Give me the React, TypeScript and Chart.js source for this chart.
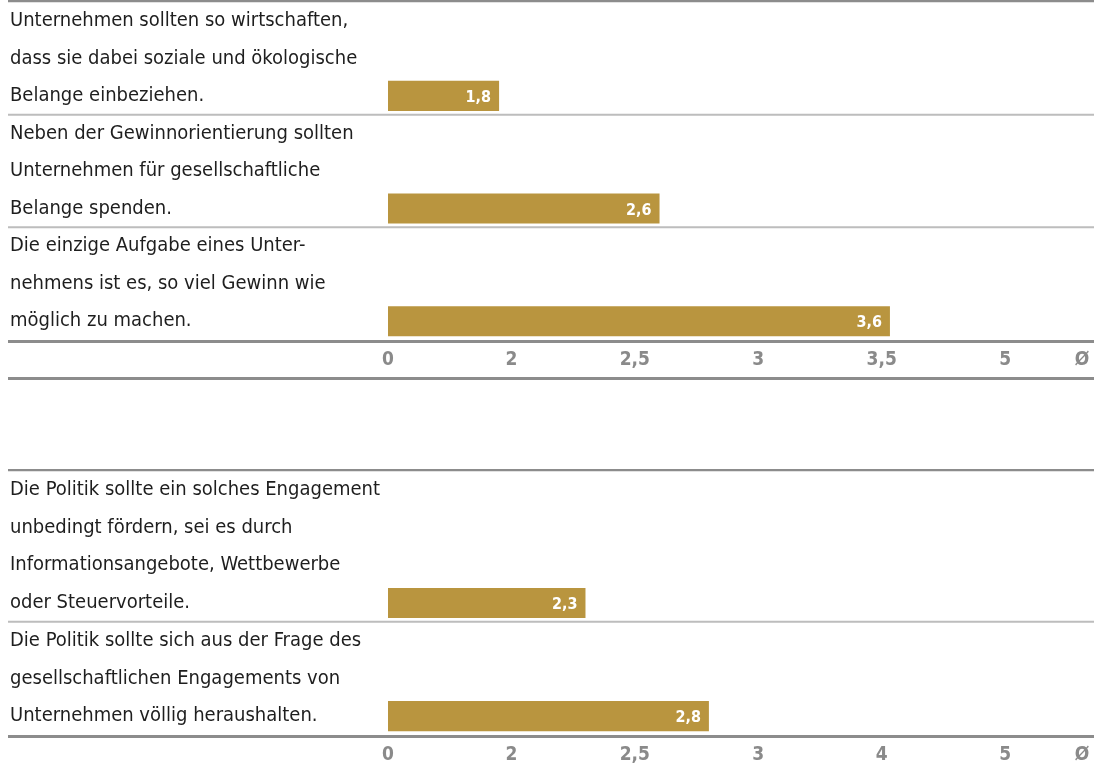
import React, { useEffect, useRef } from 'react';
import { Chart, registerables, LinearScale } from 'chart.js';

// ---------- data ----------
const topStatements: string[][] = [
  ['Unternehmen sollten so wirtschaften,', 'dass sie dabei soziale und ökologische', 'Belange einbeziehen.'],
  ['Neben der Gewinnorientierung sollten', 'Unternehmen für gesellschaftliche', 'Belange spenden.'],
  ['Die einzige Aufgabe eines Unter-', 'nehmens ist es, so viel Gewinn wie', 'möglich zu machen.'],
];
const topValues: number[] = [1.8, 2.6, 3.6];
const topTicks: number[] = [0, 2, 2.5, 3, 3.5, 5];

const bottomStatements: string[][] = [
  ['Die Politik sollte ein solches Engagement', 'unbedingt fördern, sei es durch', 'Informationsangebote, Wettbewerbe', 'oder Steuervorteile.'],
  ['Die Politik sollte sich aus der Frage des', 'gesellschaftlichen Engagements von', 'Unternehmen völlig heraushalten.'],
];
const bottomValues: number[] = [2.3, 2.8];
const bottomTicks: number[] = [0, 2, 2.5, 3, 4, 5];

const unitLabel = 'Ø';

// ---------- styles ----------
const GOLD = '#b9953f';
const DARK_LINE = '#8c8c8c';
const LIGHT_LINE = '#bdbdbd';
const TEXT = '#1e1e1e';
const TICK = '#8a8a8a';
const FONT = "'Liberation Sans Narrow', 'DejaVu Sans Condensed', 'Roboto Condensed', sans-serif";
const W = 1094;
const AXIS_H = 45;
const TICK_PAD = 9;
const TICK_SIZE = 19;

const fmt = (v: number) => String(v).replace('.', ',');

// A scale whose tick values are evenly spaced; values are interpolated between them.
class BreakScale extends LinearScale {
  static id = 'breaks';
  static defaults = {};
  toPos(v: number): number {
    const b: number[] = (this.options as any).breaks;
    if (v <= b[0]) return (v - b[0]) / (b[1] - b[0]);
    for (let i = 0; i < b.length - 1; i++) {
      if (v <= b[i + 1]) return i + (v - b[i]) / (b[i + 1] - b[i]);
    }
    const n = b.length - 1;
    return n + (v - b[n]) / (b[n] - b[n - 1]);
  }
  determineDataLimits() {
    this.min = 0;
    this.max = (this.options as any).span;
  }
  buildTicks() {
    return ((this.options as any).breaks as number[]).map((v) => ({ value: v }));
  }
  getPixelForValue(value: any) {
    if (value === null || value === undefined || isNaN(value)) return NaN;
    return super.getPixelForValue(this.toPos(value));
  }
}

Chart.register(...registerables, BreakScale);

function makeChart(canvas: HTMLCanvasElement, statements: string[][], values: number[], ticks: number[]) {
  const labels = statements.flat();
  const data: (number | null)[] = [];
  statements.forEach((lines, i) =>
    lines.forEach((_, j) => data.push(j === lines.length - 1 ? values[i] : null))
  );

  const decor = {
    id: 'decor',
    afterDraw(chart: any) {
      const { ctx, chartArea, scales } = chart;
      const y = scales.y;
      const hline = (yy: number, color: string, w: number) => {
        ctx.save();
        ctx.strokeStyle = color;
        ctx.lineWidth = w;
        ctx.beginPath();
        ctx.moveTo(8, yy);
        ctx.lineTo(chart.width, yy);
        ctx.stroke();
        ctx.restore();
      };
      let idx = -1;
      statements.forEach((lines, i) => {
        idx += lines.length;
        if (i < statements.length - 1) {
          const yy = (y.getPixelForTick(idx) + y.getPixelForTick(idx + 1)) / 2;
          hline(yy, LIGHT_LINE, 2);
        }
      });
      hline(chartArea.top - 1, DARK_LINE, 2.5);
      hline(chartArea.bottom + 1.5, DARK_LINE, 3);
      hline(chartArea.bottom + 38.5, DARK_LINE, 3);

      ctx.save();
      ctx.fillStyle = '#ffffff';
      ctx.font = `bold 16px ${FONT}`;
      ctx.textAlign = 'right';
      ctx.textBaseline = 'middle';
      const meta = chart.getDatasetMeta(0);
      meta.data.forEach((bar: any, i: number) => {
        const v = data[i];
        if (v === null) return;
        ctx.fillText(fmt(v), bar.x - 8, bar.y + 2);
      });
      ctx.fillStyle = TICK;
      ctx.font = `bold ${TICK_SIZE}px ${FONT}`;
      ctx.textAlign = 'center';
      ctx.fillText(unitLabel, chart.width - 12, chartArea.bottom + TICK_PAD + (TICK_SIZE * 1.2) / 2);
      ctx.restore();
    },
  };

  return new Chart(canvas, {
    type: 'bar',
    data: {
      labels,
      datasets: [
        {
          data,
          backgroundColor: GOLD,
          borderWidth: 0,
          barPercentage: 0.8,
          categoryPercentage: 1,
        },
      ],
    },
    options: {
      indexAxis: 'y',
      animation: false,
      responsive: false,
      events: [],
      layout: { padding: { left: 10, top: 2, right: 0, bottom: 0 } },
      plugins: { legend: { display: false }, tooltip: { enabled: false } },
      scales: {
        y: {
          type: 'category',
          grid: { display: false, drawTicks: false },
          border: { display: false },
          ticks: {
            autoSkip: false,
            crossAlign: 'far',
            padding: 0,
            color: TEXT,
            font: { family: FONT, size: 20 },
          },
          afterFit: (s: any) => {
            s.width = 378;
            s.paddingTop = 0;
            s.paddingBottom = 0;
          },
        },
        x: {
          type: 'breaks',
          position: 'bottom',
          breaks: ticks,
          span: 5.72,
          grid: { display: false, drawTicks: false },
          border: { display: false },
          ticks: {
            autoSkip: false,
            maxRotation: 0,
            padding: TICK_PAD,
            color: TICK,
            font: { family: FONT, size: TICK_SIZE, weight: 'bold' },
            callback: (_v: any, i: number) => fmt(ticks[i]),
          },
          afterFit: (s: any) => {
            s.height = AXIS_H;
            s.paddingLeft = 0;
            s.paddingRight = 0;
          },
        } as any,
      },
    } as any,
    plugins: [decor],
  });
}

export default function App() {
  const topRef = useRef<HTMLCanvasElement>(null);
  const botRef = useRef<HTMLCanvasElement>(null);
  useEffect(() => {
    const c1 = makeChart(topRef.current!, topStatements, topValues, topTicks);
    const c2 = makeChart(botRef.current!, bottomStatements, bottomValues, bottomTicks);
    return () => {
      c1.destroy();
      c2.destroy();
    };
  }, []);
  return (
    <div style={{ position: 'absolute', left: 0, top: 0, width: W, height: 770, overflow: 'hidden', background: '#fff' }}>
      <canvas ref={topRef} width={W} height={385} style={{ position: 'absolute', left: 0, top: 0 }} />
      <canvas ref={botRef} width={W} height={311} style={{ position: 'absolute', left: 0, top: 469 }} />
    </div>
  );
}
